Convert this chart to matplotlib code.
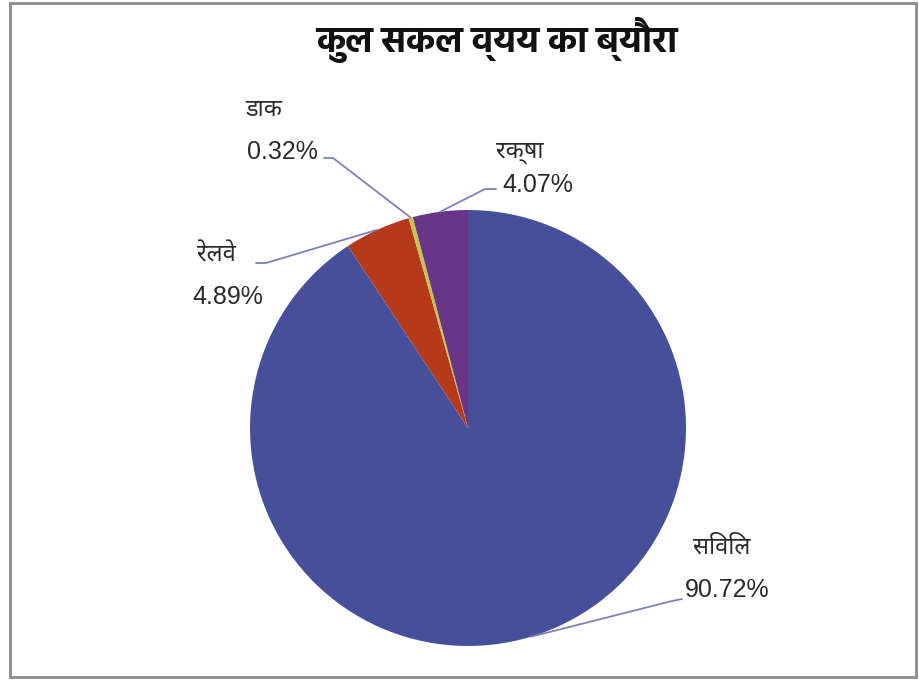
import numpy as np
import matplotlib
matplotlib.use("Agg")
import matplotlib.pyplot as plt
from matplotlib.patches import Rectangle

# Breakdown of total gross expenditure (share, %)
categories = ["सिविल", "रेलवे", "डाक", "रक्षा"]
shares = [90.72, 4.89, 0.32, 4.07]
colors = ["#46509a", "#b5391b", "#c4c64e", "#6a3489"]
title = "कुल सकल व्यय का ब्यौरा"

W, H = 919, 680
CX, CY, R = 468, 428, 218          # pie centre and radius in pixels

DEVA = ["Noto Sans Devanagari", "DejaVu Sans"]
TITLE_FONT = ["Hind", "Noto Sans Devanagari", "DejaVu Sans"]
LATIN = ["Liberation Sans", "Noto Sans Devanagari", "DejaVu Sans"]


def to_data(x, y):
    """Pixel position (from top-left) -> data coordinates of the pie axes."""
    return (x - CX) / R, (CY - y) / R


fig = plt.figure(figsize=(W / 100, H / 100), dpi=100)
fig.patch.set_facecolor("white")

# outer chart frame
fig.patches.append(Rectangle((10 / W, 3 / H), 906 / W, 674 / H,
                             transform=fig.transFigure, fill=False,
                             edgecolor="#8c8c8c", linewidth=2.0))

ax = fig.add_axes([0, 0, 1, 1])
wedges, _ = ax.pie(shares, colors=colors, startangle=90, counterclock=False,
                   radius=1.0, center=(0, 0),
                   wedgeprops=dict(linewidth=0))
x0, y0 = to_data(0, H)
x1, y1 = to_data(W, 0)
ax.set_xlim(x0, x1)
ax.set_ylim(y0, y1)
ax.set_aspect("auto")
ax.axis("off")

fig.text(497 / W, 1 - 40 / H, title, ha="center", va="center",
         fontsize=26, fontweight="bold", family=TITLE_FONT, color="#111111")

# label layout: name centre, percentage centre, leader start, elbow (pixels)
layout = {
    "सिविल": ((722, 548), (727, 590), (682, 599), (672, 601)),
    "रेलवे": ((217, 255), (228, 297), (256, 263), (266, 263)),
    "डाक":  ((264, 110), (282, 152), (324, 158), (333, 158)),
    "रक्षा": ((520, 152), (538, 185), (496, 189), (485, 189)),
}

leader_color = "#7a83b6"
for w, name, val in zip(wedges, categories, shares):
    (nx, ny), (vx, vy), (sx, sy), (ex, ey) = layout[name]
    ax.text(*to_data(nx, ny), name, ha="center", va="center",
            fontsize=17, family=DEVA, color="#2a2a2a")
    ax.text(*to_data(vx, vy), f"{val:.2f}%", ha="center", va="center",
            fontsize=18, family=LATIN, color="#2a2a2a")
    mid = np.deg2rad((w.theta1 + w.theta2) / 2)
    px_, py_ = np.cos(mid) * w.r, np.sin(mid) * w.r
    xs = [to_data(sx, sy)[0], to_data(ex, ey)[0], px_]
    ys = [to_data(sx, sy)[1], to_data(ex, ey)[1], py_]
    ax.plot(xs, ys, color=leader_color, linewidth=1.3, solid_capstyle="round")

fig.savefig("out.png", dpi=100, facecolor="white")
